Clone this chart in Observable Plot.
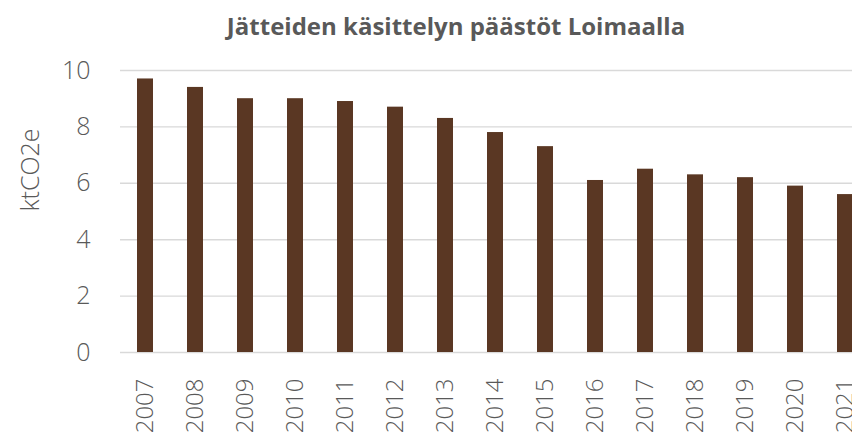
<!DOCTYPE html>
<html>
<head>
<meta charset="utf-8">
<script src="https://cdn.jsdelivr.net/npm/d3@7"></script>
<script src="https://cdn.jsdelivr.net/npm/@observablehq/plot@0.6"></script>
<style>
  html, body { margin: 0; padding: 0; background: #fff; }
  #wrap { width: 852px; height: 434px; overflow: hidden; }
  #title {
    width: 852px; height: 52px; box-sizing: border-box; padding-left: 60px;
    text-align: center; line-height: 52px;
    font-family: "Open Sans", sans-serif; font-weight: 700; font-size: 24px;
    color: #595959; white-space: nowrap;
  }
</style>
</head>
<body>
<div id="wrap">
  <div id="title">Jätteiden käsittelyn päästöt Loimaalla</div>
  <div id="chart"></div>
</div>
<script>
const years = ["2007","2008","2009","2010","2011","2012","2013","2014","2015","2016","2017","2018","2019","2020","2021"];
const emissions = [9.7, 9.4, 9.0, 9.0, 8.9, 8.7, 8.3, 7.8, 7.3, 6.1, 6.5, 6.3, 6.2, 5.9, 5.6];
const yTicks = [0, 2, 4, 6, 8, 10];
const yLabel = "ktCO2e";

const data = years.map((y, i) => ({year: y, value: emissions[i]}));

const chart = Plot.plot({
  width: 852,
  height: 382,
  marginTop: 18,
  marginBottom: 82,
  marginLeft: 120,
  marginRight: 0,
  style: {fontFamily: "Open Sans, sans-serif", background: "#fff", overflow: "hidden"},
  x: {domain: years, range: [120, 870], paddingInner: 0.68, paddingOuter: 0.34, label: null},
  y: {domain: [0, 10], label: null},
  marks: [
    Plot.ruleY(yTicks, {stroke: "#d9d9d9", strokeWidth: 1.4}),
    Plot.barY(data, {x: "year", y: "value", fill: "#5a3723"}),
    Plot.axisY(yTicks, {tickSize: 0, tickPadding: 30, fontSize: 25, fontWeight: 300, fill: "#595959", label: null}),
    Plot.axisX({tickSize: 0, tickPadding: 26, tickRotate: -90, fontSize: 24, fontWeight: 300, fill: "#595959", label: null}),
    Plot.text([yLabel], {frameAnchor: "left", dx: -90, rotate: -90, fontSize: 25, fontWeight: 300, fill: "#595959"})
  ]
});
document.getElementById("chart").appendChild(chart);
</script>
</body>
</html>
